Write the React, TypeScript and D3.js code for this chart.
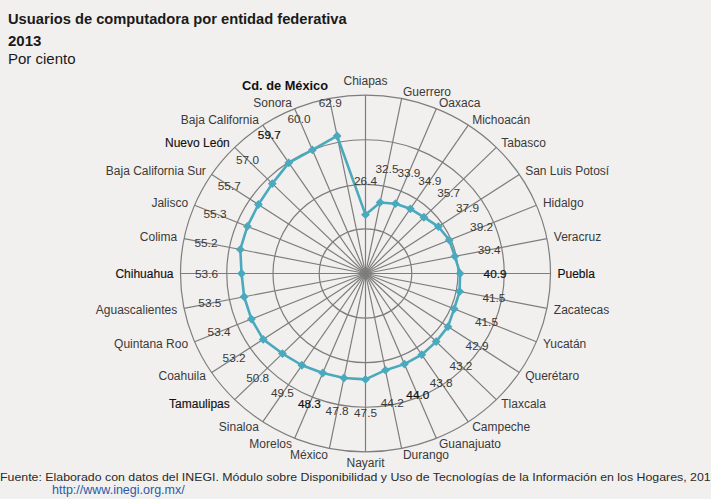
import React from "react";
import * as d3 from "d3";

// Entidades en orden de las agujas del reloj, a partir de Chiapas (arriba)
const states = [
  "Chiapas", "Guerrero", "Oaxaca", "Michoacán", "Tabasco", "San Luis Potosí",
  "Hidalgo", "Veracruz", "Puebla", "Zacatecas", "Yucatán", "Querétaro",
  "Tlaxcala", "Campeche", "Guanajuato", "Durango", "Nayarit", "México",
  "Morelos", "Sinaloa", "Tamaulipas", "Coahuila", "Quintana Roo",
  "Aguascalientes", "Chihuahua", "Colima", "Jalisco", "Baja California Sur",
  "Nuevo León", "Baja California", "Sonora", "Cd. de México",
];

// Porcentaje de usuarios de computadora, 2013
const values = [
  26.4, 32.5, 33.9, 34.9, 35.7, 37.9, 39.2, 39.4, 40.9, 41.5, 41.5, 42.9,
  43.2, 43.8, 44.0, 44.2, 47.5, 47.8, 48.3, 49.5, 50.8, 53.2, 53.4, 53.5,
  53.6, 55.2, 55.3, 55.7, 57.0, 59.7, 60.0, 62.9,
];

// Valores de las circunferencias de la rejilla radial
const ringTicks = [20, 40, 60, 80];

const emphasizedStates = ["Nuevo León", "Chihuahua", "Tamaulipas", "Puebla"];
const emphasizedValues = [40.9, 44.0, 48.3];

const W = 711;
const H = 499;
const cx = 365.5;
const cy = 273.5;
const ky = 0.964;
const teal = "#4aa9bd";
const grid = "#7d7d7d";
const font = "'Liberation Sans', Arial, sans-serif";

export default function App() {
  const r = d3.scaleLinear().domain([0, 80]).range([0, 185]);
  const angle = d3
    .scaleLinear()
    .domain([0, states.length])
    .range([0, 2 * Math.PI]);

  const px = (i: number, rad: number) => cx + rad * Math.sin(angle(i));
  const py = (i: number, rad: number) => cy - rad * Math.cos(angle(i)) * ky;

  const pts: [number, number][] = values.map((v, i) => [
    px(i, r(v)),
    py(i, r(v)),
  ]);
  const linePath = d3.line().curve(d3.curveLinearClosed)(pts) || "";
  const marker = d3.symbol().type(d3.symbolDiamond2).size(50)() || "";

  const outer = r(80);
  const labelR = outer + 7;

  return (
    <svg
      width={W}
      height={H}
      style={{ position: "absolute", left: 0, top: 0, display: "block" }}
      fontFamily={font}
    >
      <rect width={W} height={H} fill="#f1f0ee" />

      <text x={8} y={24} fontSize={14.7} fontWeight="bold" fill="#1a1a1a">
        Usuarios de computadora por entidad federativa
      </text>
      <text x={8} y={46} fontSize={15} fontWeight="bold" fill="#1a1a1a">
        2013
      </text>
      <text x={8} y={64} fontSize={15} fill="#1a1a1a">
        Por ciento
      </text>

      {/* rejilla */}
      <g fill="none" stroke={grid} strokeWidth={1.2}>
        {ringTicks.map((t) => (
          <ellipse key={t} cx={cx} cy={cy} rx={r(t)} ry={r(t) * ky} />
        ))}
        {states.map((s, i) => (
          <line key={s} x1={cx} y1={cy} x2={px(i, outer)} y2={py(i, outer)} />
        ))}
      </g>

      {/* serie */}
      <path d={linePath} fill="none" stroke={teal} strokeWidth={2.6} strokeLinejoin="round" />
      {pts.map(([x, y], i) => (
        <path key={i} d={marker} transform={`translate(${x},${y})`} fill={teal} />
      ))}

      {/* etiquetas de valor */}
      {values.map((v, i) => {
        const lr = r(v) + 35;
        const strong = emphasizedValues.includes(v) || i === 29;
        return (
          <text
            key={"v" + i}
            x={px(i, lr)}
            y={py(i, lr)}
            dy="0.35em"
            textAnchor="middle"
            fontSize={11.8}
            fill={strong ? "#111" : "#3a3a3a"}
            stroke={strong ? "#111" : "none"}
            strokeWidth={strong ? 0.2 : 0}
          >
            {v.toFixed(1)}
          </text>
        );
      })}

      {/* etiquetas de categoría */}
      {states.map((s, i) => {
        const sin = Math.sin(angle(i));
        const anchor = Math.abs(sin) < 0.01 ? "middle" : sin > 0 ? "start" : "end";
        let dy = 4;
        if (i === 0) dy = -3;
        if (i === 16) dy = 8;
        const isCapital = i === states.length - 1;
        if (isCapital) dy = -2;
        const strong = emphasizedStates.includes(s);
        return (
          <text
            key={"c" + s}
            x={px(i, labelR)}
            y={py(i, labelR) + dy}
            textAnchor={anchor}
            fontSize={isCapital ? 12.8 : 12}
            fontWeight={isCapital ? "bold" : "normal"}
            fill={isCapital || strong ? "#111" : "#3a3a3a"}
            stroke={strong ? "#111" : "none"}
            strokeWidth={strong ? 0.15 : 0}
          >
            {s}
          </text>
        );
      })}

      <text x={0} y={481} fontSize={11} fill="#2a2a2a" textLength={721} lengthAdjust="spacingAndGlyphs">
        Fuente: Elaborado con datos del INEGI. Módulo sobre Disponibilidad y Uso de Tecnologías de la Información en los Hogares, 2013.
      </text>
      <text x={52} y={494} fontSize={12.5} fill="#2a5ba8">
        http://www.inegi.org.mx/
      </text>
    </svg>
  );
}
